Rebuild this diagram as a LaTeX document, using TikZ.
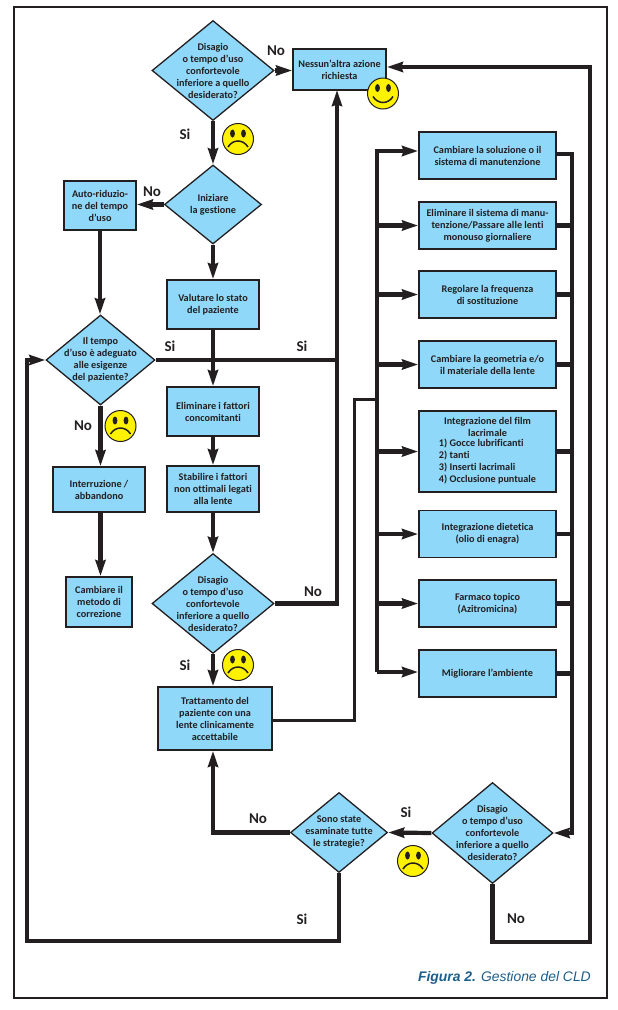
\documentclass[tikz,border=0pt]{standalone}
\usepackage{fontspec}
\setmainfont[Ligatures=NoCommon]{Carlito}
\newfontfamily\captionFont{Liberation Sans}
\usetikzlibrary{arrows.meta}
\usetikzlibrary{shapes.geometric}
\definecolor{boxBlue}{HTML}{8FD8F9}
\definecolor{inkDark}{HTML}{231F20}
\definecolor{faceYellow}{HTML}{FFF200}
\definecolor{captionBlue}{HTML}{1B5E8C}
\tikzset{
	pics/faceSad/.style={code={
		\fill[faceYellow, draw=inkDark, line width=1pt] (0,0) circle (15.5);
		\fill[inkDark] (-5.5,-5.5) ellipse (2.4 and 4);
		\fill[inkDark] (5.5,-5.5) ellipse (2.4 and 4);
		\draw[inkDark, line width=1.5pt] (-10,8) .. controls (-5,0) and (5,0) .. (10,8);
	}},
	pics/faceHappy/.style={code={
		\fill[faceYellow, draw=inkDark, line width=1pt] (0,0) circle (15.5);
		\fill[inkDark] (-5.5,-5.5) ellipse (2.4 and 4);
		\fill[inkDark] (5.5,-5.5) ellipse (2.4 and 4);
		\draw[inkDark, line width=1.5pt] (-10,3) .. controls (-5,11) and (5,11) .. (10,3);
	}}
}
\begin{document}
\begin{tikzpicture}[x=1pt, y=-1pt,
	textFont/.style={font=\bfseries\fontsize{10.2}{12}\selectfont, text=inkDark, align=center},
	boxStyle/.style={rectangle, draw=inkDark, fill=boxBlue, line width=1.7pt, inner sep=0pt, textFont},
	decisionStyle/.style={diamond, draw=inkDark, fill=boxBlue, line width=1.3pt, inner sep=0pt},
	decisionText/.style={label={[textFont]center:{#1}}},
	answerStyle/.style={font=\bfseries\fontsize{15}{15}\selectfont, text=inkDark},
	lineStyle/.style={draw=inkDark, line width=4.2pt, miter limit=10},
	flowStyle/.style={lineStyle, -{Stealth[length=16pt, width=10pt, inset=1.5pt]}}]
	\useasboundingbox (0,0) rectangle (618,1010);
	\node[draw=inkDark, line width=2pt, minimum width=593, minimum height=991, inner sep=0pt] (frame) at (310.5,502.5) {};

	% Centre column
	\node[decisionStyle, minimum width=122, minimum height=100, decisionText={Disagio\\o tempo d'uso\\confortevole\\inferiore a quello\\desiderato?}] (d1) at (213,70.5) {};
	\node[boxStyle, minimum width=93, minimum height=41] (stop) at (339.5,69.5) {Nessun'altra azione\\richiesta};
	\node[decisionStyle, minimum width=97, minimum height=79, decisionText={Iniziare\\la gestione}] (d2) at (213,204.5) {};
	\node[boxStyle, minimum width=92, minimum height=49] (valuta) at (213,304.5) {Valutare lo stato\\del paziente};
	\node[boxStyle, minimum width=92, minimum height=49] (elimina) at (213,411.5) {Eliminare i fattori\\concomitanti};
	\node[boxStyle, minimum width=92, minimum height=46] (stabilire) at (213,489) {Stabilire i fattori\\non ottimali legati\\alla lente};
	\node[decisionStyle, minimum width=122, minimum height=100, decisionText={Disagio\\o tempo d'uso\\confortevole\\inferiore a quello\\desiderato?}] (d4) at (213,603.5) {};
	\node[boxStyle, minimum width=114, minimum height=63] (tratta) at (215,718.5) {Trattamento del\\paziente con una\\lente clinicamente\\accettabile};

	% Left column
	\node[boxStyle, minimum width=72, minimum height=49] (auto) at (100,205.5) {Auto-riduzio-\\ne del tempo\\d'uso};
	\node[decisionStyle, minimum width=109, minimum height=90, decisionText={Il tempo\\d'uso è adeguato\\alle esigenze\\del paziente?}] (d3) at (100.5,360) {};
	\node[boxStyle, minimum width=92, minimum height=45] (inter) at (99,489.5) {Interruzione /\\abbandono};
	\node[boxStyle, minimum width=66, minimum height=50] (metodo) at (99,602) {Cambiare il\\metodo di\\correzione};

	% Strategies
	\node[boxStyle, minimum width=137, minimum height=47] (b1) at (487.5,155.5) {Cambiare la soluzione o il\\sistema di manutenzione};
	\node[boxStyle, minimum width=137, minimum height=47] (b2) at (487.5,225.5) {Eliminare il sistema di manu-\\tenzione/Passare alle lenti\\monouso giornaliere};
	\node[boxStyle, minimum width=137, minimum height=47] (b3) at (487.5,294.5) {Regolare la frequenza\\di sostituzione};
	\node[boxStyle, minimum width=137, minimum height=47] (b4) at (487.5,364.5) {Cambiare la geometria e/o\\il materiale della lente};
	\node[boxStyle, minimum width=137, minimum height=81] (b5) at (487.5,451.5) {Integrazione del film\\lacrimale\\\begin{tabular}{@{}l@{}}1) Gocce lubrificanti\\2) tanti\\3) Inserti lacrimali\\4) Occlusione puntuale\end{tabular}};
	\node[boxStyle, minimum width=137, minimum height=47] (b6) at (487.5,534) {Integrazione dietetica\\(olio di enagra)};
	\node[boxStyle, minimum width=137, minimum height=47] (b7) at (487.5,603.5) {Farmaco topico\\(Azitromicina)};
	\node[boxStyle, minimum width=137, minimum height=47] (b8) at (487.5,673.5) {Migliorare l'ambiente};

	% Bottom row
	\node[decisionStyle, minimum width=121, minimum height=101, decisionText={Disagio\\o tempo d'uso\\confortevole\\inferiore a quello\\desiderato?}] (d5) at (492.5,833) {};
	\node[decisionStyle, minimum width=97, minimum height=80, decisionText={Sono state\\esaminate tutte\\le strategie?}] (d6) at (339,832.5) {};

	% Corners
	\coordinate (busTop) at (377,151);
	\coordinate (busBottom) at (377,672);
	\coordinate (busJoin) at (377,399);
	\coordinate (linkUp) at (354,720);
	\coordinate (linkTop) at (354,399);
	\coordinate (backRight) at (590,942);
	\coordinate (backTop) at (590,67);
	\coordinate (backLeft) at (27,941);
	\coordinate (sideBus) at (572,154);
	\coordinate (stopIn) at (337,90);

	% Main flow
	\draw[flowStyle] (d1.east) -- (stop.west |- d1.east);
	\draw[flowStyle] (d1.south) -- (d2.north);
	\draw[flowStyle] (d2.west) -- (auto.east |- d2.west);
	\draw[flowStyle] (d2.south) -- (valuta.north);
	\draw[flowStyle] (valuta.south) -- (elimina.north);
	\draw[flowStyle] (elimina.south) -- (stabilire.north);
	\draw[flowStyle] (stabilire.south) -- (d4.north);
	\draw[flowStyle] (d4.south) -- (d4.south |- tratta.north);
	\draw[flowStyle] (auto.south) -- (auto.south |- d3.north);
	\draw[flowStyle] (d3.south) -- (d3.south |- inter.north);
	\draw[flowStyle] (d3.south |- inter.south) -- (d3.south |- metodo.north);
	\draw[lineStyle] (d3.east) -- (d3.east -| stopIn);
	\draw[flowStyle] (d4.east) -| (stopIn);

	% Strategies
	\draw[lineStyle, line width=3pt] (tratta.east |- linkUp) -- (linkUp) -- (linkTop) -- (busJoin);
	\draw[flowStyle] (busBottom) -- (busTop) -- (b1.west |- busTop);
	\foreach \boxName in {b2,b3,b4,b5,b6,b7}
		\draw[flowStyle] (busTop |- \boxName.west) -- (\boxName.west);
	\draw[flowStyle] (busTop |- busBottom) -- (b8.west |- busBottom);
	\foreach \boxName in {b2,b3,b4,b5,b6,b7,b8}
		\draw[lineStyle] (\boxName.east) -- (sideBus |- \boxName.east);
	\draw[flowStyle] (b1.east |- sideBus) -- (sideBus) |- (d5.east);

	% Bottom loops
	\draw[flowStyle] (d5.west) -- (d6.east);
	\draw[flowStyle] (d6.west) -| (d4.south |- tratta.south);
	\draw[flowStyle] (d6.south) |- (backLeft) |- (d3.west);
	\draw[flowStyle] (d5.south) |- (backRight) -- (backTop) -- (stop.east |- backTop);

	% Answers
	\node[answerStyle] (no1) at (276,51) {No};
	\node[answerStyle] (si1) at (185,134) {Si};
	\node[answerStyle] (no2) at (152,192) {No};
	\node[answerStyle] (si2) at (170,346) {Si};
	\node[answerStyle] (si3) at (302,346) {Si};
	\node[answerStyle] (no3) at (83,426) {No};
	\node[answerStyle] (no4) at (313,592) {No};
	\node[answerStyle] (si4) at (185,665) {Si};
	\node[answerStyle] (si5) at (406,812) {Si};
	\node[answerStyle] (no5) at (258,819) {No};
	\node[answerStyle] (si6) at (302,919) {Si};
	\node[answerStyle] (no6) at (516,919) {No};

	% Faces
	\pic at (383,93.5) {faceHappy};
	\pic at (238,139) {faceSad};
	\pic at (120.5,426) {faceSad};
	\pic at (238,665) {faceSad};
	\pic at (413,861) {faceSad};

	\node[anchor=base east, inner sep=0pt, font=\captionFont\fontsize{13.9}{14}\selectfont, text=captionBlue] (caption) at (591,981) {\textbf{\textit{Figura 2.}} \textit{Gestione del CLD}};
\end{tikzpicture}
\end{document}
